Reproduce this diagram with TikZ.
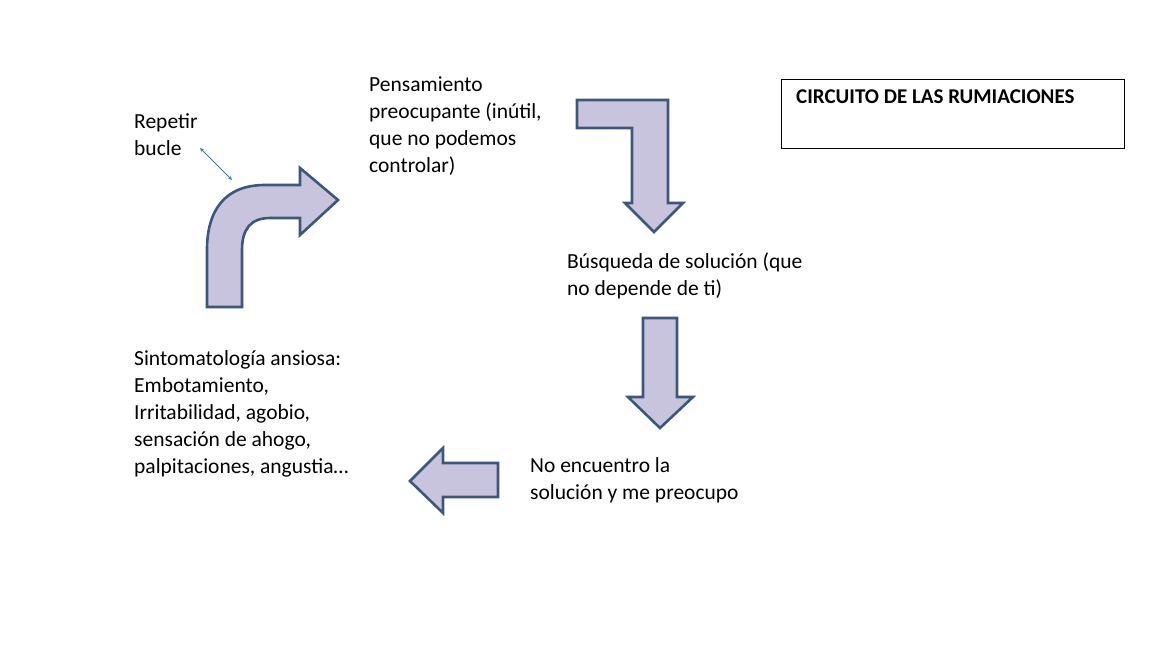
\documentclass[tikz,border=0pt]{standalone}
\usepackage{fontspec}
\setmainfont{Carlito}
\definecolor{fillc}{RGB}{200,196,222}
\definecolor{edgec}{RGB}{62,86,124}
\definecolor{smallc}{RGB}{70,120,180}
\begin{document}
\begin{tikzpicture}[x=1pt,y=-1pt,
  blk/.style={fill=fillc,draw=edgec,line width=2.6pt,line join=miter},
  lbl/.style={anchor=north west,inner sep=0pt,align=left,font=\fontsize{21.5pt}{27pt}\selectfont}]
\useasboundingbox (0,0) rectangle (1170,650);
% curved arrow
\draw[blk] (207,307) -- (207,250) .. controls (207,210) and (225,185) .. (265,185) -- (300,185) -- (300,168) -- (338,200) -- (300,235) -- (300,218) -- (270,218) .. controls (250,218) and (242,230) .. (242,250) -- (242,307) -- cycle;
% bent arrow top right
\draw[blk] (577,100) -- (668,100) -- (668,203) -- (683,203) -- (654,232) -- (625,203) -- (632,203) -- (632,128) -- (577,128) -- cycle;
% down arrow
\draw[blk] (643,318) -- (677,318) -- (677,397) -- (693,397) -- (660,428) -- (628,397) -- (643,397) -- cycle;
% left arrow
\draw[blk] (498,463) -- (498,497) -- (443,497) -- (443,513) -- (410,481) -- (443,448) -- (443,463) -- cycle;
% small double arrow
\coordinate (s1) at (200,148); \coordinate (s2) at (232,180);
\draw[draw=smallc,<->,>=stealth,line width=0.8pt] (s1) -- (s2);
% texts
\node[lbl] (rep) at (134,113) {Repetir\\bucle};
\node[lbl] (pen) at (369,77) {Pensamiento\\preocupante (inútil,\\que no podemos\\controlar)};
\node[lbl] (bus) at (567,253) {Búsqueda de solución (que\\no depende de ti)};
\node[lbl] (noe) at (530,457) {No encuentro la\\solución y me preocupo};
\node[lbl] (sin) at (134,350) {Sintomatología ansiosa:\\Embotamiento,\\Irritabilidad, agobio,\\sensación de ahogo,\\palpitaciones, angustia…};
\node[draw,line width=1pt,minimum width=343pt,minimum height=69pt,anchor=north west] (box) at (781,79) {};
\node[anchor=north west,inner sep=0pt,font=\bfseries\fontsize{21pt}{25pt}\selectfont] (tit) at (796,90) {CIRCUITO DE LAS RUMIACIONES};
\end{tikzpicture}
\end{document}
